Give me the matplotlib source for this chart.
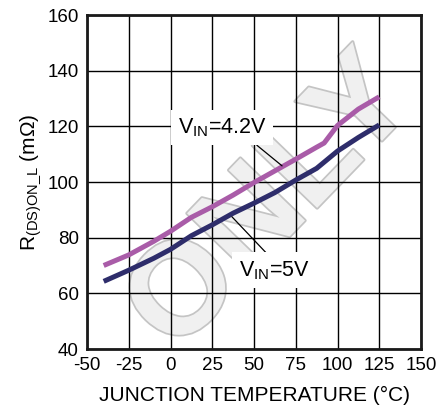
import matplotlib
matplotlib.use("Agg")
import matplotlib.pyplot as plt
import matplotlib.patheffects as pe

plt.rcParams['font.family'] = ['Liberation Sans', 'DejaVu Sans']
plt.rcParams['mathtext.fontset'] = 'custom'
plt.rcParams['mathtext.rm'] = 'Liberation Sans'
plt.rcParams['mathtext.it'] = 'Liberation Sans:italic'
plt.rcParams['mathtext.bf'] = 'Liberation Sans:bold'

# ---- data ----
temp_42 = [-40, -25, -10, 0, 12.5, 25, 37.5, 50, 62.5, 75, 87.5, 92, 100, 112.5, 125]
rds_42 = [70.0, 73.8, 78.7, 82.3, 87.3, 91.1, 95.3, 99.8, 104.0, 108.2, 112.5, 114.0, 120.3, 126.2, 130.6]
temp_5 = [-40, -25, -10, 0, 12.5, 25, 37.5, 50, 62.5, 75, 87.5, 100, 112.5, 125]
rds_5 = [64.3, 68.3, 72.6, 75.8, 80.7, 84.6, 88.8, 92.4, 96.2, 100.7, 104.9, 111.1, 116.0, 120.5]
x_ticks = [-50, -25, 0, 25, 50, 75, 100, 125, 150]
y_ticks = [40, 60, 80, 100, 120, 140, 160]
label_42 = r'V$_{\rm IN}$=4.2V'
label_5 = r'V$_{\rm IN}$=5V'
xlabel = 'JUNCTION TEMPERATURE (°C)'
ylabel = r'R$_{\rm (DS)ON\_L}$ (m$\Omega$)'
watermark = 'ONLY'

W, H = 448, 413
fig = plt.figure(figsize=(W / 100, H / 100), dpi=100)

# watermark
fig.text(272 / W, 1 - 205 / H, watermark, fontsize=94, fontweight='bold',
         color='#f0f0f0', rotation=46, ha='center', va='center', zorder=0,
         path_effects=[pe.withStroke(linewidth=2.5, foreground='#c4c4c4')])

ax = fig.add_axes([87 / W, 1 - 349 / H, (421 - 87) / W, (349 - 15) / H])
ax.set_facecolor('none')
ax.set_zorder(1)

ax.plot(temp_42, rds_42, color='#a95ca8', lw=3.6, solid_capstyle='butt', zorder=3)
ax.plot(temp_5, rds_5, color='#2e2d6b', lw=3.6, solid_capstyle='butt', zorder=3)

ax.set_xlim(-50, 150)
ax.set_ylim(40, 160)
ax.set_xticks(x_ticks)
ax.set_yticks(y_ticks)
ax.set_xticklabels([str(v) for v in x_ticks])
ax.set_yticklabels([str(v) for v in y_ticks])
ax.tick_params(length=0, labelsize=13.5, pad=6, colors='black')
ax.grid(True, color='black', lw=1.0)
ax.set_axisbelow(True)
for s in ax.spines.values():
    s.set_linewidth(2.0)
    s.set_color('#1a1a1a')
    s.set_zorder(4)

ax.set_xlabel(xlabel, fontsize=15, labelpad=8)
ax.set_ylabel(ylabel, fontsize=15, labelpad=3)

bbox = dict(boxstyle='square,pad=0.3', fc='white', ec='none')
ax.annotate(label_42, xy=(66.8, 105.8), xytext=(31, 119.6), fontsize=15.5,
            ha='center', va='center', bbox=bbox, zorder=5,
            arrowprops=dict(arrowstyle='-', color='black', lw=0.9,
                            relpos=(0.8, 0.0), shrinkA=0, shrinkB=0))
ax.annotate(label_5, xy=(36.8, 87.5), xytext=(62, 68.3), fontsize=15.5,
            ha='center', va='center', bbox=bbox, zorder=5,
            arrowprops=dict(arrowstyle='-', color='black', lw=0.9,
                            relpos=(0.47, 1.0), shrinkA=0, shrinkB=0))

fig.savefig('out.png', dpi=100)
